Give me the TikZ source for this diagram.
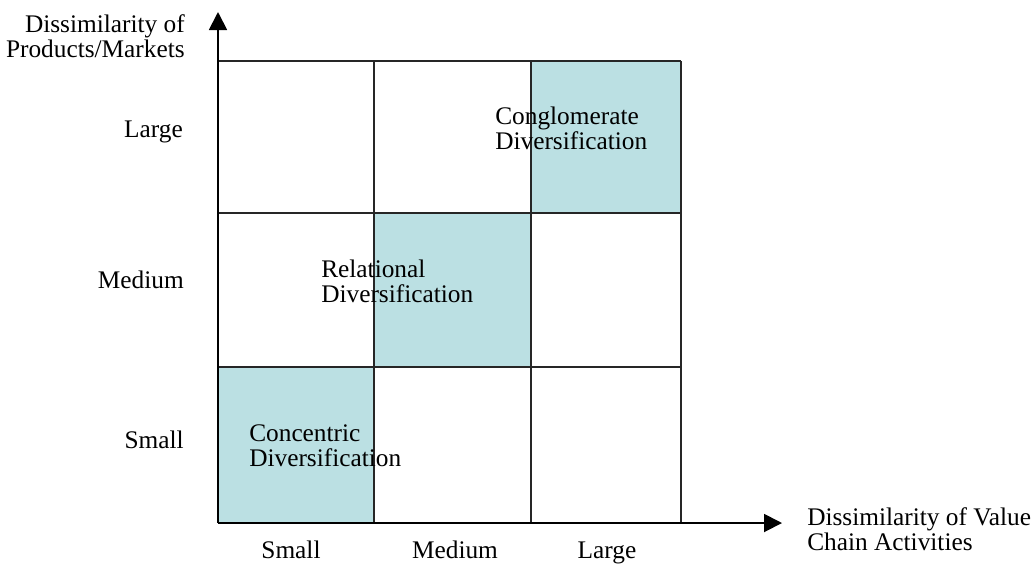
\documentclass[tikz,border=0pt]{standalone}
\usepackage{fontspec}
\setmainfont{Liberation Serif}
\usetikzlibrary{arrows.meta}
\definecolor{cellfill}{RGB}{187,224,227}
\tikzset{
	gridline/.style={line width=1.4pt, black!85},
	axis/.style={line width=1.4pt, -{Triangle[length=13.5pt,width=13.5pt]}},
	lbl/.style={inner sep=0pt, font=\fontsize{19}{18.5}\selectfont}
}
\begin{document}
\begin{tikzpicture}[x=0.75pt,y=-0.75pt]
	\useasboundingbox (0,0) rectangle (1034,569);
	% shaded cells
	\fill[cellfill] (218,367) rectangle (374,523);
	\fill[cellfill] (374,213) rectangle (531,367);
	\fill[cellfill] (531,61) rectangle (681,213);
	% grid
	\foreach \x in {218,374,531,681}
	\draw[gridline] (\x,61) -- (\x,523);
	\foreach \y in {61,213,367,523}
	\draw[gridline] (218,\y) -- (681,\y);
	% axes
	\coordinate (origin) at (218,523);
	\coordinate (ytip) at (218,12);
	\coordinate (xtip) at (782,523);
	\draw[axis] (origin) -- (ytip);
	\draw[axis] (origin) -- (xtip);
	% axis titles (base = last line)
	\node[lbl, anchor=base east, align=right] (ytitle) at (185,57) {Dissimilarity of\\Products/Markets};
	\node[lbl, anchor=base west, align=left] (xtitle) at (807,550) {Dissimilarity of Value\\Chain Activities};
	% row labels
	\node[lbl, anchor=base east] (rowlarge) at (183,137) {Large};
	\node[lbl, anchor=base east] (rowmedium) at (184,288) {Medium};
	\node[lbl, anchor=base east] (rowsmall) at (184,448) {Small};
	% column labels
	\node[lbl, anchor=base] (colsmall) at (291,558) {Small};
	\node[lbl, anchor=base] (colmedium) at (455,558) {Medium};
	\node[lbl, anchor=base] (collarge) at (607,558) {Large};
	% strategies
	\node[lbl, anchor=base west, align=left] (concentric) at (249,466) {Concentric\\Diversification};
	\node[lbl, anchor=base west, align=left] (relational) at (321,302) {Relational\\Diversification};
	\node[lbl, anchor=base west, align=left] (conglomerate) at (495,149) {Conglomerate\\Diversification};
\end{tikzpicture}
\end{document}
